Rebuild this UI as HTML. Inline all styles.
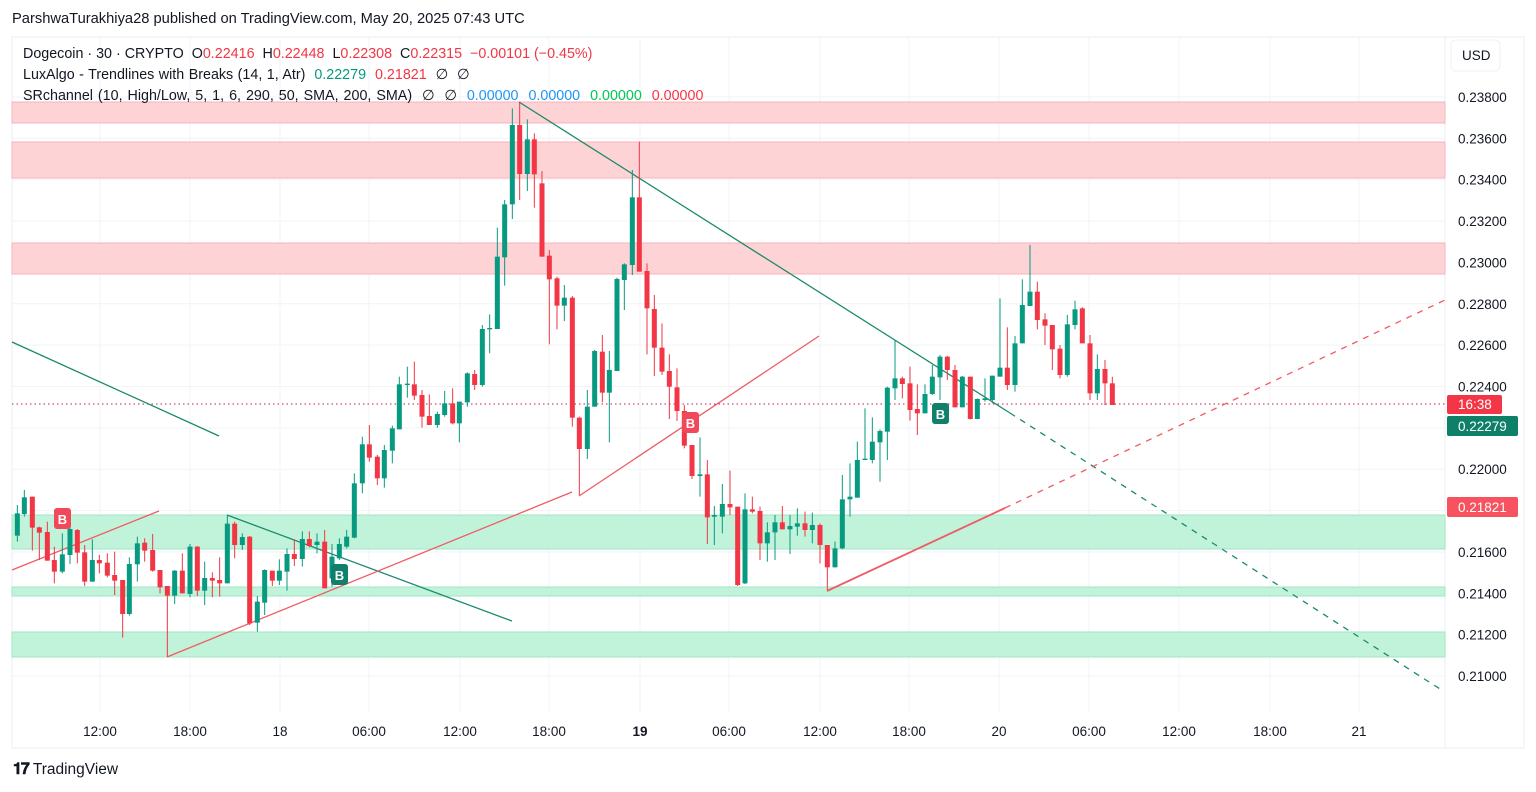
<!DOCTYPE html>
<html><head><meta charset="utf-8"><style>
body{margin:0;width:1536px;height:792px;background:#fff;font-family:"Liberation Sans",sans-serif;overflow:hidden;position:relative}
.t{position:absolute;white-space:nowrap}
</style></head><body>
<svg id="s" width="1536" height="792" style="position:absolute;left:0;top:0" font-family="Liberation Sans, sans-serif">
<rect x="12" y="37" width="1512" height="711" fill="#fff" stroke="#eceef2"/>
<line x1="1445" y1="37" x2="1445" y2="748" stroke="#eceef2"/>
<g id="grid" stroke="#f2f3f5" stroke-width="1"></g>
<g id="zones"></g>
<line x1="12" y1="404" x2="1445" y2="404" stroke="#c2185b" stroke-dasharray="1.5,3" stroke-width="1"/>
<g fill="none" stroke-width="1.3">
<line x1="12" y1="342" x2="219" y2="436" stroke="#1b8a6b"/>
<line x1="227" y1="515" x2="512" y2="621" stroke="#1b8a6b"/>
<line x1="519" y1="102" x2="1010" y2="413" stroke="#1b8a6b"/>
<line x1="1010" y1="413" x2="1440" y2="689" stroke="#1b8a6b" stroke-dasharray="6,6"/>
<line x1="12" y1="570" x2="159" y2="511" stroke="#f05b63"/>
<line x1="167" y1="657" x2="572" y2="492" stroke="#f05b63"/>
<line x1="579" y1="496" x2="819" y2="336" stroke="#f05b63"/>
<line x1="827" y1="591" x2="1005" y2="508" stroke="#f05b63" stroke-width="1.8"/>
<line x1="1005" y1="508" x2="1445" y2="300" stroke="#f05b63" stroke-dasharray="6,6"/>
</g>
<g id="c"></g>
<g font-size="13" font-weight="bold" fill="#fff" text-anchor="middle">
<rect x="54" y="508" width="17" height="21" rx="3" fill="#f2495a"/><text x="62.5" y="524">B</text>
<rect x="682" y="412" width="17" height="21" rx="3" fill="#f2495a"/><text x="690.5" y="428">B</text>
<rect x="331" y="564" width="17" height="21" rx="3" fill="#11806a"/><text x="339.5" y="580">B</text>
<rect x="932" y="403" width="17" height="21" rx="3" fill="#11806a"/><text x="940.5" y="419">B</text>
</g>
<g id="ax" font-size="13.5" fill="#131722"></g>
<rect x="1451" y="40" width="49" height="31" rx="5" fill="#fff" stroke="#f0f1f3"/>
<text x="1462" y="60" font-size="13.5" fill="#131722">USD</text>
<rect x="1447" y="395" width="55" height="19" rx="2" fill="#f23645"/><text x="1458" y="409" font-size="13.5" fill="#fff">16:38</text>
<rect x="1447" y="416" width="71" height="20" rx="2" fill="#0f8068"/><text x="1458" y="431" font-size="13.5" fill="#fff">0.22279</text>
<rect x="1447" y="497" width="71" height="20" rx="2" fill="#f7525f"/><text x="1458" y="512" font-size="13.5" fill="#fff">0.21821</text>
</svg>
<div class="t" style="left:12px;top:11px;font-size:14.7px;color:#131722">ParshwaTurakhiya28 published on TradingView.com, May 20, 2025 07:43 UTC</div>
<div class="t" style="left:23px;top:46px;font-size:14.3px;color:#131722">Dogecoin · 30 · CRYPTO&nbsp; O<span style="color:#f23645">0.22416</span>&nbsp; H<span style="color:#f23645">0.22448</span>&nbsp; L<span style="color:#f23645">0.22308</span>&nbsp; C<span style="color:#f23645">0.22315&nbsp; −0.00101 (−0.45%)</span></div>
<div class="t" style="left:23px;top:67px;font-size:14.3px;color:#131722;word-spacing:0.5px">LuxAlgo - Trendlines with Breaks (14, 1, Atr)&nbsp; <span style="color:#089981">0.22279</span>&nbsp; <span style="color:#f23645">0.21821</span>&nbsp; ∅&nbsp; ∅</div>
<div class="t" style="left:23px;top:88px;font-size:14.3px;color:#131722;word-spacing:1px">SRchannel (10, High/Low, 5, 1, 6, 290, 50, SMA, 200, SMA)&nbsp; ∅&nbsp; ∅&nbsp; <span style="color:#2196f3">0.00000&nbsp; 0.00000</span>&nbsp; <span style="color:#00c853">0.00000</span>&nbsp; <span style="color:#f23645">0.00000</span></div>
<div class="t" style="left:13px;top:761px;font-size:15.5px;color:#131722"><b style="font-size:16px;letter-spacing:-1px">𝟏𝟕</b> TradingView</div>
<script>
var NS="http://www.w3.org/2000/svg";
function el(p,t,a){var e=document.createElementNS(NS,t);for(var k in a)e.setAttribute(k,a[k]);p.appendChild(e);return e;}
var g=document.getElementById('grid'),ax=document.getElementById('ax');
var prices=["0.23800","0.23600","0.23400","0.23200","0.23000","0.22800","0.22600","0.22400","0.22200","0.22000","0.21800","0.21600","0.21400","0.21200","0.21000"];
prices.forEach(function(p,i){var y=97+i*41.36;el(g,'line',{x1:12,x2:1445,y1:y,y2:y});
 if(p!="0.22200"&&p!="0.21800"){var t=el(ax,'text',{x:1458,y:y+5});t.textContent=p;}});
var times=[[100,"12:00"],[190,"18:00"],[280,"18"],[369,"06:00"],[460,"12:00"],[549,"18:00"],[640,"19"],[729,"06:00"],[820,"12:00"],[909,"18:00"],[999,"20"],[1089,"06:00"],[1179,"12:00"],[1270,"18:00"],[1359,"21"]];
times.forEach(function(t){el(g,'line',{x1:t[0],x2:t[0],y1:37,y2:712});var e=el(ax,'text',{x:t[0],y:736,'text-anchor':'middle'});e.textContent=t[1];if(t[1]=="19")e.setAttribute('font-weight','bold');});
var z=document.getElementById('zones');
[[102,123,1],[142,178,1],[243,274,1],[515,549,0],[587,596,0],[632,657,0]].forEach(function(r){
 el(z,'rect',{x:12,y:r[0],width:1433,height:r[1]-r[0],fill:r[2]?'#fdd3d6':'#c0f3da',stroke:r[2]?'#f7b3b8':'#9fe6c2','stroke-width':1});});
var c=document.getElementById('c');
function add(ox,oy,arr){arr.forEach(function(d){var x=ox+d[0]/3,col=d[1]?'#089981':'#f23645';
 el(c,'line',{x1:x,x2:x,y1:oy+d[4]/3,y2:oy+d[5]/3,stroke:col,'stroke-width':1});
 var t=oy+d[2]/3,b=oy+d[3]/3;el(c,'rect',{x:x-2.5,y:t,width:5,height:Math.max(1,b-t),fill:col});});}
var G=1,R=0;
add(10,340,[[22,G,520,587,495,605],[43,G,472,522,450,530],[67,R,470,563,470,632],[88,R,562,578,560,660],[112,R,576,662,545,662],[133,R,660,695,620,730],[157,G,643,695,580,700],[180,G,567,645,560,672],[202,R,570,638,567,670],[224,R,637,725,615,738],[247,G,660,725,598,725],[268,R,660,670,645,700],[292,R,668,707,640,712],[314,R,705,722,635,765],[338,R,720,822,720,893],[358,G,672,822,652,827],[382,G,610,673,590,725],[404,R,608,632,595,665],[428,R,630,692,582,695],[450,R,690,742,690,760],[472,R,738,767,738,950],[494,G,692,767,690,792],[517,R,692,760,640,760],[540,G,620,762,612,772],[562,R,620,752,618,768],[584,G,714,752,665,795],[607,R,714,722,697,772],[629,R,720,730,652,770],[652,G,551,730,525,730],[674,R,551,615,545,655],[697,G,591,615,580,630],[719,R,590,850,588,855],[742,G,785,848,768,875],[764,G,690,788,688,825],[787,R,692,722,692,738],[808,G,692,722,658,735],[831,G,642,695,625,752],[853,R,642,657,598,678],[877,G,597,657,574,680],[898,R,597,618,574,622],[921,G,605,615,580,640],[944,R,605,745,570,745],[966,G,650,715,612,740],[988,G,612,655,595,660]]);
add(340,95,[[20,G,1325,1355,1305,1360],[43,G,1165,1328,1135,1330],[67,G,1048,1165,1025,1195],[88,R,1048,1088,990,1100],[112,R,1085,1150,1080,1170],[133,G,1065,1150,1050,1178],[157,G,1000,1067,992,1105],[178,G,868,1003,845,1003],[202,G,866,870,815,908],[223,R,868,902,800,915],[246,R,900,965,885,998],[268,R,963,990,898,990],[292,G,957,990,950,998],[314,G,925,960,888,965],[338,R,925,985,880,988],[358,G,920,985,920,1042],[382,G,835,922,832,935],[404,R,837,870,825,885],[427,G,702,870,690,875],[449,G,699,703,658,775],[472,G,485,702,398,702],[494,G,328,487,315,572],[517,G,90,328,40,372],[539,R,90,237,20,315],[562,G,133,237,73,288],[583,R,133,238,115,338],[606,R,265,485,228,485],[628,R,482,553,465,748],[651,R,550,632,545,703],[673,G,608,632,570,678],[697,R,608,968,603,995],[718,R,968,1062,965,1200],[742,G,935,1062,885,1092],[764,G,768,935,765,935],[787,R,770,893,720,922],[808,G,825,893,768,1042],[831,G,552,828,548,828],[853,G,508,555,505,645],[877,G,307,510,225,540],[898,R,307,530,140,530],[921,R,528,640,505,778],[943,R,642,758,600,843],[966,R,758,830,685,840],[988,R,828,875,778,972],[1011,R,877,948,820,978],[1033,R,948,1052,930,1060],[1056,R,1050,1143,1050,1152]]);
add(690,230,[[30,G,733,738,622,800],[52,R,733,862,690,942],[73,G,855,860,828,945],[97,G,822,860,762,910],[120,R,822,832,722,855],[143,R,830,1065,830,1068],[165,G,838,1060,790,1062],[187,R,838,845,800,850],[210,R,843,940,830,990],[232,G,907,940,877,995],[255,G,877,907,855,990],[277,R,877,898,828,898],[300,G,888,898,855,972],[322,G,880,890,835,917],[345,R,880,900,845,920],[367,G,885,900,848,940],[390,R,885,945,880,1000],[412,R,945,1012,945,1080],[435,G,955,1012,935,1012],[457,G,808,955,735,958],[480,G,800,808,700,860],[502,G,690,803,635,803],[525,G,686,690,535,690],[547,G,635,690,562,700],[570,G,603,637,598,755],[592,G,473,605,470,690],[615,G,445,475,330,510],[637,R,445,462,440,505],[660,R,460,540,410,572],[682,R,537,550,463,615],[705,G,492,550,463,550],[727,G,440,492,405,495],[750,G,380,442,375,510],[772,R,380,420,378,450],[795,R,420,532,405,532],[817,G,440,532,438,532],[841,R,440,567,440,568],[862,G,507,567,505,567],[885,G,505,510,445,515],[907,G,437,510,437,520],[930,G,413,440,205,440],[952,R,413,465,292,480],[975,G,340,465,318,485],[997,G,225,340,148,340],[1020,G,185,228,45,228],[1042,R,185,270,155,298],[1065,R,268,287,250,345],[1087,R,285,358,285,420],[1110,R,356,435,345,445],[1132,G,283,435,255,440],[1155,G,238,285,212,298],[1177,R,235,340,232,340],[1200,R,340,490,315,510],[1222,G,417,490,373,510],[1245,R,417,460,390,525],[1267,R,460,525,440,525]]);
</script>
</body></html>
